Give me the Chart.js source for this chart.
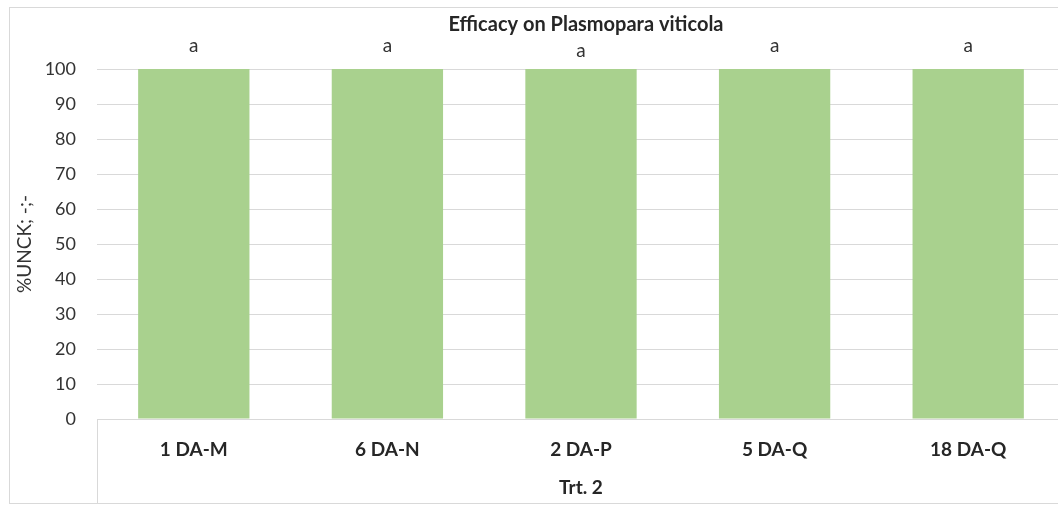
<!DOCTYPE html>
<html>
<head>
<meta charset="utf-8">
<script src="https://cdn.jsdelivr.net/npm/chart.js@4"></script>
<style>
html,body{margin:0;padding:0;background:#fff;overflow:hidden;}
#wrap{position:relative;width:1080px;height:505px;}
</style>
</head>
<body>
<div id="wrap"><canvas id="c"></canvas></div>
<script>
const categories = ["1 DA-M", "6 DA-N", "2 DA-P", "5 DA-Q", "18 DA-Q"];
const efficacy = [100, 100, 100, 100, 100];
const letters = ["a", "a", "a", "a", "a"];
const chartTitle = "Efficacy on Plasmopara viticola";
const yTitle = "%UNCK; -;-";
const xTitle = "Trt. 2";

const FONT = "Lato, 'Open Sans', sans-serif";
const TXT = "#333333";
const BOLD_TXT = "#262626";
const GRID = "#d9d9d9";

const extras = {
  id: "extras",
  beforeDraw(chart) {
    const ctx = chart.ctx;
    ctx.save();
    ctx.fillStyle = "#fff";
    ctx.fillRect(0, 0, chart.width, chart.height);
    ctx.restore();
  },
  afterDraw(chart) {
    const ctx = chart.ctx;
    const ca = chart.chartArea;
    const xs = chart.scales.x;
    ctx.save();
    // outer chart border
    ctx.strokeStyle = GRID;
    ctx.lineWidth = 1;
    ctx.strokeRect(9.5, 7.5, chart.width + 20, chart.height - 9);
    // category table left line
    ctx.beginPath();
    ctx.moveTo(ca.left + 0.5, ca.bottom);
    ctx.lineTo(ca.left + 0.5, xs.bottom);
    ctx.stroke();
    // title
    ctx.fillStyle = BOLD_TXT;
    ctx.textAlign = "center";
    ctx.textBaseline = "middle";
    ctx.font = "bold 20px " + FONT;
    ctx.fillText(chartTitle, 586, 25);
    // significance letters
    ctx.fillStyle = TXT;
    ctx.font = "19px " + FONT;
    const meta = chart.getDatasetMeta(0);
    meta.data.forEach((bar, i) => {
      const off = (i === 2) ? 18 : 23;
      ctx.fillText(letters[i], bar.x, bar.y - off);
    });
    ctx.restore();
  }
};

new Chart(document.getElementById("c"), {
  type: "bar",
  data: {
    labels: categories,
    datasets: [{
      data: efficacy,
      backgroundColor: "#A9D18E",
      borderWidth: 0,
      barPercentage: 0.575,
      categoryPercentage: 1.0
    }]
  },
  options: {
    responsive: true,
    maintainAspectRatio: false,
    animation: false,
    layout: { padding: { left: 13, right: 15, top: 69, bottom: 1 } },
    plugins: { legend: { display: false }, tooltip: { enabled: false }, title: { display: false } },
    scales: {
      x: {
        grid: { display: false, drawTicks: false },
        border: { display: true, color: GRID, width: 1 },
        ticks: { color: BOLD_TXT, font: { family: FONT, size: 19, weight: "bold" }, padding: 19, maxRotation: 0 },
        title: { display: true, text: xTitle, color: BOLD_TXT, font: { family: FONT, size: 19, weight: "bold" }, padding: { top: 0, bottom: 5 } },
        afterFit(s) { s.height = 85; }
      },
      y: {
        min: 0, max: 100,
        ticks: { stepSize: 10, color: TXT, font: { family: FONT, size: 18 }, padding: 21 },
        grid: { color: GRID, drawTicks: false, tickLength: 0 },
        border: { display: false },
        title: { display: true, text: yTitle, color: TXT, font: { family: FONT, size: 19 }, padding: { top: 0, bottom: 0 } },
        afterFit(s) { s.width = 84; }
      }
    }
  },
  plugins: [extras]
});
</script>
</body>
</html>
